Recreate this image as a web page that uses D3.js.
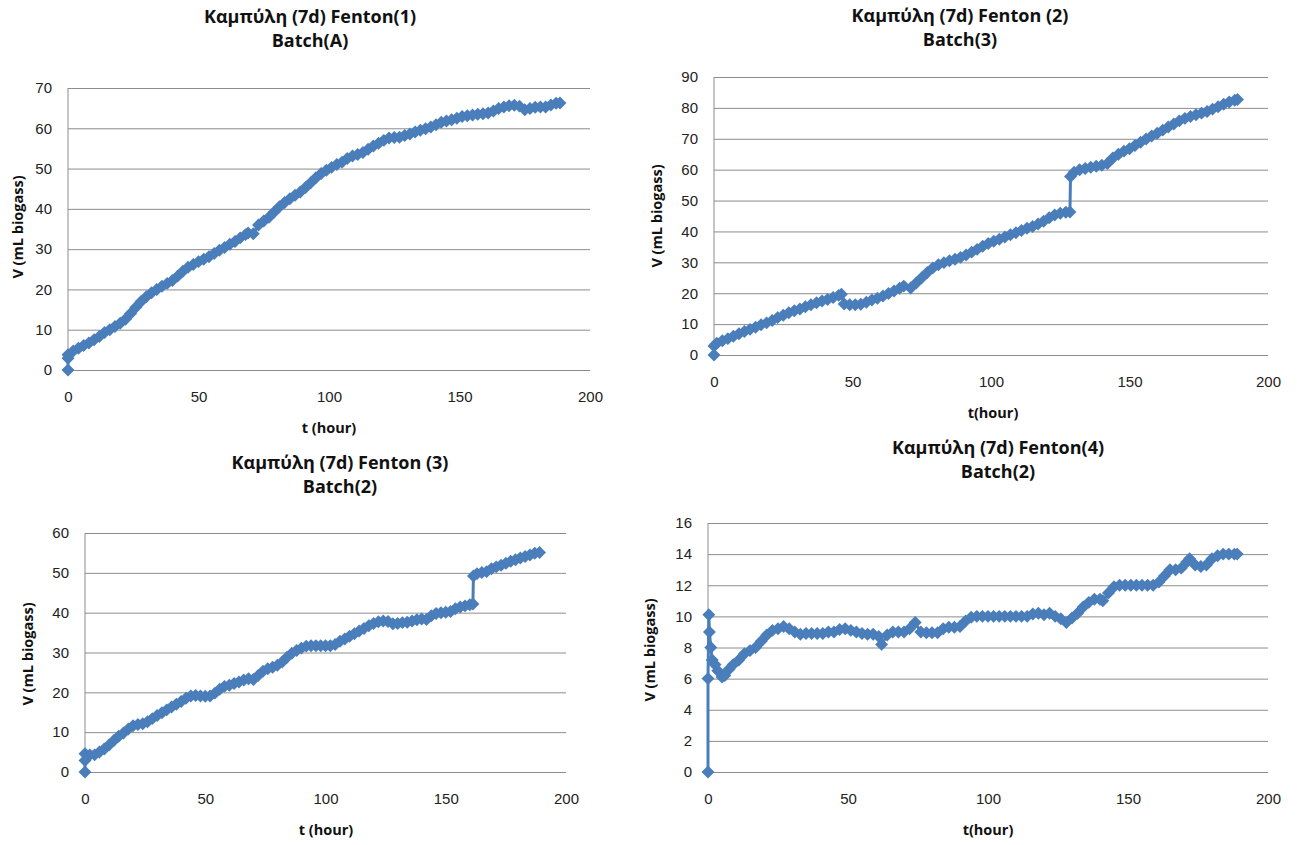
<!DOCTYPE html>
<html>
<head>
<meta charset="utf-8">
<script src="https://cdn.jsdelivr.net/npm/d3@7"></script>
<style>
  body { margin: 0; background: #fff; }
  svg { font-family: "Open Sans", "Noto Sans", sans-serif; }
  .grid line { stroke: #8c8c8c; stroke-width: 1; }
  .ttl { font-weight: bold; font-size: 18px; fill: #111; }
  .axt { font-weight: bold; font-size: 14.5px; fill: #111; }
</style>
</head>
<body>
<div class="chart"></div>
<script>
// data: [t (hour), V (mL biogass)]
var fenton1 = [
  [0,0],[0,2.9],[0,3.8],[2,4.7],[4,5.4],[6,6.1],[8,6.7],[10,7.5],[12,8.3],[14,9.3],[16,10],[18,10.8],
  [20,11.6],[22,12.6],[24,14],[26,15.6],[28,17],[30,18.2],[32,19.2],[34,20],[36,20.8],[38,21.5],
  [40,22.2],[42,23.3],[44,24.5],[46,25.5],[48,26.2],[50,26.9],[52,27.5],[54,28.1],[56,28.9],[58,29.7],
  [60,30.4],[62,31.2],[64,31.9],[66,32.8],[68,33.6],[69,34],[71,33.8],[73,36],[75,37],[77,37.9],
  [79,39.2],[81,40.5],[83,41.6],[85,42.5],[87,43.4],[89,44.2],[91,45.3],[93,46.5],[95,47.7],[97,48.8],
  [99,49.6],[101,50.3],[103,51],[105,51.6],[107,52.5],[109,53.1],[111,53.5],[113,54],[115,54.8],
  [117,55.6],[119,56.3],[121,57],[123,57.6],[125,57.7],[127,57.8],[129,58.2],[131,58.6],[133,59.1],
  [135,59.5],[137,59.9],[139,60.3],[141,60.9],[143,61.5],[145,61.8],[147,62.1],[149,62.5],[151,62.9],
  [153,63.1],[155,63.3],[157,63.5],[159,63.6],[161,63.8],[163,64.3],[165,64.9],[167,65.3],[169,65.6],
  [171,65.7],[173,65.5],[175,64.6],[177,64.9],[179,65.2],[181,65.3],[183,65.3],[185,65.8],[187,66.2],
  [188.5,66.3]
];

var fenton2 = [
  [0,0],[0,2.9],[1,3.8],[3,4.6],[5,5.3],[7,6.1],[9,6.9],[11,7.6],[13,8.3],[15,9],[17,9.8],[19,10.4],
  [21,11.2],[23,12.1],[25,12.9],[27,13.7],[29,14.3],[31,14.9],[33,15.6],[35,16.3],[37,16.9],[39,17.5],
  [41,18],[43,18.6],[45,19.3],[46,19.7],[47,16.5],[49,16.3],[51,16.3],[53,16.4],[55,17.1],[57,17.8],
  [59,18.4],[61,19.1],[63,19.9],[65,20.7],[67,21.6],[68.5,22.3],[71,21.7],[73,23.3],[75,25],[77,26.7],
  [79,28.2],[81,29.2],[83,29.9],[85,30.5],[87,31],[89,31.6],[91,32.4],[93,33.3],[95,34.2],[97,35.2],
  [99,36.1],[101,36.8],[103,37.5],[105,38.2],[107,38.9],[109,39.6],[111,40.3],[113,41],[115,41.6],
  [117,42.4],[119,43.3],[121,44.4],[123,45.3],[125,45.9],[127,46.2],[128.5,46.3],[128.7,57.8],
  [130,59.2],[132,60],[134,60.4],[136,60.8],[138,61.1],[140,61.4],[142,62],[144,63.8],[146,65],
  [148,66],[150,66.8],[152,67.8],[154,68.9],[156,69.9],[158,70.9],[160,71.8],[162,72.8],[164,73.8],
  [166,74.8],[168,75.8],[170,76.6],[172,77.2],[174,77.8],[176,78.3],[178,78.8],[180,79.6],[182,80.4],
  [184,81.2],[186,81.9],[188,82.5],[189,82.7]
];

var fenton3 = [
  [0,0],[0,2.9],[0,4.6],[2,4.3],[4,4.3],[6,5],[8,5.8],[10,6.8],[12,7.9],[14,9],[16,9.8],[18,10.8],
  [20,11.6],[22,11.9],[24,12.1],[26,12.6],[28,13.4],[30,14.2],[32,14.9],[34,15.6],[36,16.3],[38,17],
  [40,17.7],[42,18.5],[44,19.1],[46,19.2],[48,19.1],[50,19],[52,19.1],[54,19.8],[56,20.8],[58,21.5],
  [60,21.8],[62,22.2],[64,22.6],[66,23.1],[68,23.4],[70,23.2],[72,24.2],[74,25.3],[76,25.9],[78,26.3],
  [80,26.8],[82,27.6],[84,28.8],[86,29.8],[88,30.5],[90,31.1],[92,31.6],[94,31.7],[96,31.7],[98,31.7],
  [100,31.7],[102,31.7],[104,32],[106,32.8],[108,33.4],[110,34.1],[112,34.7],[114,35.4],[116,36],
  [118,36.7],[120,37.3],[122,37.7],[124,37.9],[126,37.8],[128,37.2],[130,37.3],[132,37.5],[134,37.6],
  [136,37.9],[138,38.2],[140,38.4],[142,38.3],[144,39.2],[146,39.8],[148,40],[150,40.1],[152,40.3],
  [154,41],[156,41.4],[158,41.7],[160,42],[161.3,42.2],[161.5,49.2],[163,49.8],[165,50.1],[167,50.3],
  [169,51],[171,51.5],[173,51.9],[175,52.4],[177,52.9],[179,53.3],[181,53.7],[183,54.1],[185,54.5],
  [187,54.9],[189,55.1]
];

var fenton4 = [
  [0,0],[0,6],[0.3,10.1],[0.5,9],[1,8],[1.5,7.2],[2.5,6.9],[3.5,6.5],[5,6.1],[6,6.2],[7.5,6.6],[9,6.9],
  [11,7.2],[13,7.6],[15,7.8],[17,8],[19,8.4],[21,8.8],[23,9.1],[25,9.2],[27,9.35],[29,9.2],[31,9],
  [33,8.85],[35,8.9],[37,8.9],[39,8.9],[41,8.9],[43,9],[45,9],[47,9.15],[49,9.2],[51,9.1],[53,9],
  [55,8.9],[57,8.85],[59,8.85],[61,8.7],[62,8.2],[64,8.8],[66,9],[68,9],[70,9],[72,9.2],[74,9.6],
  [76,9],[78,8.95],[80,8.95],[82,8.95],[84,9.2],[86,9.3],[88,9.3],[90,9.35],[92,9.7],[94,9.95],
  [96,10],[98,10],[100,10],[102,10],[104,10],[106,10],[108,10],[110,10],[112,10],[114,10],[116,10.15],
  [118,10.2],[120,10.1],[122,10.2],[124,10],[126,9.85],[128,9.6],[130,9.9],[132,10.2],[134,10.6],
  [136,10.9],[138,11.1],[140,11.1],[141,11],[143,11.5],[145,11.9],[147,12],[149,12],[151,12],[153,12],
  [155,12],[157,12],[159,12],[161,12.2],[163,12.6],[165,13],[167,13],[169,13.1],[171,13.5],[172,13.7],
  [174,13.3],[176,13.2],[178,13.3],[180,13.7],[182,13.9],[184,14],[186,14],[188,14],[189,14]
];

var titles1 = ["Καμπύλη (7d) Fenton(1)", "Καμπύλη (7d) Fenton (2)", "Καμπύλη (7d) Fenton (3)", "Καμπύλη (7d) Fenton(4)"];
var titles2 = ["Batch(A)", "Batch(3)", "Batch(2)", "Batch(2)"];
var xTitles = ["t (hour)", "t(hour)", "t (hour)", "t(hour)"];
var yTitle = "V (mL biogass)";
var yMax = [70, 90, 60, 16];
var yStep = [10, 10, 10, 2];
var xTicks = [0, 50, 100, 150, 200];

var color = "#4a7ebb";

var svg = d3.select(".chart")
	.append("svg")
	.attr("width", 1300)
	.attr("height", 845);

// layout of each panel (plot box, title spots)
var panels = [
	{left: 68, right: 590, top: 88, bottom: 370, tx: 310, ty: 16.5, xtx: 329, xty: 428, ytx: 18, yty: 227},
	{left: 714, right: 1268, top: 77, bottom: 355, tx: 960, ty: 16, xtx: 993, xty: 413, ytx: 657, yty: 216},
	{left: 85, right: 566, top: 533, bottom: 772, tx: 340, ty: 463, xtx: 326, xty: 830, ytx: 28, yty: 654},
	{left: 708, right: 1268, top: 523, bottom: 772, tx: 998, ty: 448, xtx: 988, xty: 830, ytx: 650, yty: 650}
];
var series = [fenton1, fenton2, fenton3, fenton4];

panels.forEach(function(p, i) {
	var w = p.right - p.left,
	    h = p.bottom - p.top;

	var x = d3.scaleLinear().domain([0, 200]).range([0, w]);
	var y = d3.scaleLinear().domain([0, yMax[i]]).range([h, 0]);

	var g = svg.append("g")
		.attr("transform", "translate(" + p.left + "," + p.top + ")");

	// gridlines + y labels
	var yAxis = g.append("g")
		.attr("class", "grid")
		.call(d3.axisLeft(y).tickValues(d3.range(0, yMax[i] + 0.001, yStep[i])).tickSize(-w).tickPadding(16));
	yAxis.select(".domain").remove();

	// left axis line
	g.append("line")
		.attr("x1", 0).attr("x2", 0)
		.attr("y1", 0).attr("y2", h)
		.attr("stroke", "#8c8c8c");

	var xAxis = g.append("g")
		.attr("transform", "translate(0," + h + ")")
		.call(d3.axisBottom(x).tickValues(xTicks).tickSize(0).tickPadding(21));
	xAxis.select(".domain").remove();

	// line
	g.append("path")
		.datum(series[i])
		.attr("fill", "none")
		.attr("stroke", color)
		.attr("stroke-width", 3)
		.attr("stroke-linejoin", "round")
		.attr("d", d3.line()
			.x(function(d) { return x(d[0]) })
			.y(function(d) { return y(d[1]) }));

	// diamond markers
	g.append("g")
		.selectAll("path")
		.data(series[i])
		.enter()
		.append("path")
		.attr("d", d3.symbol().type(d3.symbolSquare).size(84))
		.attr("transform", function(d) { return "translate(" + x(d[0]) + "," + y(d[1]) + ") rotate(45)" })
		.attr("fill", color);

	// titles
	svg.append("text")
		.attr("class", "ttl")
		.attr("x", p.tx).attr("y", p.ty)
		.attr("dy", "0.35em")
		.attr("text-anchor", "middle")
		.text(titles1[i]);
	svg.append("text")
		.attr("class", "ttl")
		.attr("x", p.tx).attr("y", p.ty + 24)
		.attr("dy", "0.35em")
		.attr("text-anchor", "middle")
		.text(titles2[i]);

	svg.append("text")
		.attr("class", "axt")
		.attr("x", p.xtx).attr("y", p.xty)
		.attr("dy", "0.35em")
		.attr("text-anchor", "middle")
		.text(xTitles[i]);

	svg.append("text")
		.attr("class", "axt")
		.attr("text-anchor", "middle")
		.attr("dy", "0.35em")
		.attr("transform", "translate(" + p.ytx + "," + p.yty + ") rotate(-90)")
		.text(yTitle);
});

svg.selectAll(".tick text")
	.attr("font-family", null)
	.attr("font-size", null)
	.style("font-size", "15px")
	.attr("fill", "#222");
</script>
</body>
</html>
